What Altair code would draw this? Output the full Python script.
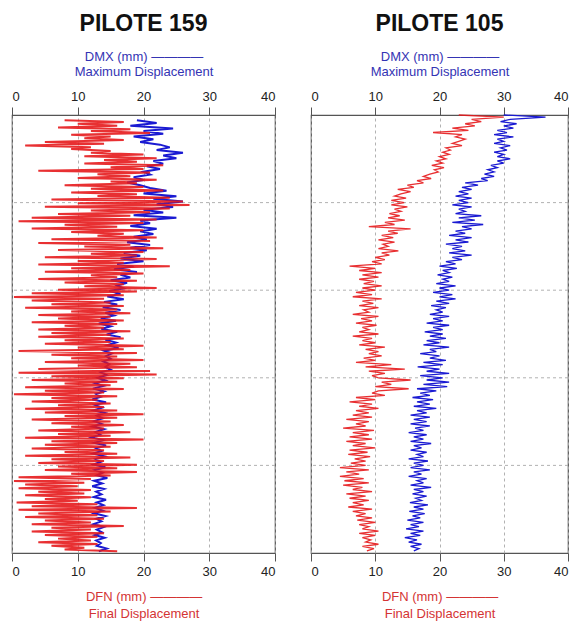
import altair as alt
import numpy as np
import pandas as pd

# ---------------- data ----------------
AXIS_TICKS = [0, 10, 20, 30, 40]
DEPTH_GRID = [10, 20, 30, 40]

# PILOTE 159
depth_span_159 = (0.6, 49.8)
dfn_159 = [
    8, 17, 10, 16, 7, 18, 12, 21, 9, 15, 11, 17, 5, 14, 2, 12, 9, 15, 12, 20,
    11, 22, 14, 19, 11, 23, 15, 20, 4, 21, 13, 18, 10, 22, 15, 19, 8, 20, 12, 23,
    9, 19, 13, 24, 6, 26, 10, 27, 5, 24, 12, 21, 7, 18, 3, 22, 1, 20, 8, 16,
    3, 20, 9, 17, 13, 22, 6, 21, 4, 18, 11, 23, 7, 20, 12, 19, 5, 22, 10, 17,
    4, 24, 9, 18, 5, 20, 12, 16, 4, 19, 8, 17, 11, 22, 7, 19, 3, 17, 0.3, 14,
    3, 15, 6, 17, 2, 16, 9, 18, 4, 15, 7, 17, 3, 16, 8, 14, 4, 18, 6, 15,
    4, 17, 8, 15, 5, 20, 10, 17, 1, 19, 6, 16, 9, 20, 5, 18, 10, 19, 4, 21,
    1, 22, 6, 17, 3, 16, 8, 15, 2, 17, 5, 14, 0.3, 16, 6, 13, 3, 15, 7, 14,
    2, 16, 5, 20, 8, 16, 3, 15, 6, 17, 9, 14, 4, 18, 7, 15, 2, 20, 6, 16,
    5, 15, 3, 14, 8, 16, 2, 18, 6, 14, 4, 19, 7, 16, 5, 19, 9, 15, 1, 12,
    0.3, 11, 2, 10, 1, 12, 4, 11, 2, 12, 5, 10, 0.7, 13, 3, 19, 1, 15, 4, 13,
    2, 14, 5, 12, 3, 17, 6, 12, 3, 14, 5, 13, 7, 12, 4, 13, 6, 11, 8, 16,
]
dmx_159 = [
    19, 22, 18, 24.5, 20, 23, 18.5, 21.5, 19.5, 22.5, 24, 22, 26, 23, 25, 21.5,
    23, 20.5, 22.5, 20, 21, 18.5, 20, 17.5, 19.5, 21, 23.5, 20, 25, 21.5, 26, 22,
    24.5, 20, 23, 18.5, 25, 19.5, 21, 18, 22, 19.5, 21.5, 18.5, 20.5, 17.5, 21, 18,
    20.5, 17, 19.5, 16.5, 20, 16, 18.5, 15.5, 19, 16.5, 18, 15, 17.5, 16, 17, 14.8,
    16.5, 14.5, 17, 14, 16, 13.8, 16.5, 14.2, 15.5, 13.5, 15.8, 13.2, 15, 13.6, 16, 14.4,
    16.5, 14.2, 15.8, 14.5, 16.2, 14, 15.2, 14.3, 15, 13.9, 14.8, 14.2, 15, 13.5, 14.4, 13,
    14.2, 12.6, 13.9, 12.3, 14, 12.8, 13.5, 12.2, 14.3, 12.6, 13.7, 12.4, 14.1, 12.9, 13.8, 12.5,
    13.6, 12.2, 14, 12.7, 13.4, 12.1, 13.9, 12.5, 14.3, 12.8, 13.6, 12.3, 14.1, 12.7, 13.5, 12.4,
    14.2, 12.6, 13.8, 12.9, 14.5, 12.5, 13.7, 12.2, 14, 12.8, 13.6, 12.4, 14.3, 12.9, 13.9, 12.6,
    13.8, 12.5, 14.2, 12.8, 13.6, 12.4, 14, 12.9, 13.7, 12.6, 14.1, 12.8, 13.5, 12.9, 14.4, 13.2,
]

# PILOTE 105
depth_span_105 = (0.0, 49.75)
dfn_105 = [
    23, 30, 25, 26.5, 24, 25.5, 22, 24.5, 19, 23.5, 22.5, 24, 23, 22, 23.5, 21, 21.7, 20.5, 21.5, 20,
    21, 19.5, 20.5, 18.8, 20.7, 19.2, 19.8, 18.5, 17.5, 18.7, 16.5, 17.5, 15, 16, 13.5, 15.5, 14, 13, 14.8, 12.5,
    14.5, 12.5, 15, 13, 14, 12.2, 13.8, 12, 14.6, 11.5, 13, 9, 15.5, 12, 13.5, 11, 12.8, 10.5, 13, 11.2,
    12, 10.5, 13.6, 11, 12.2, 10, 11.5, 9.5, 11, 6, 10, 7.5, 11, 8, 10.5, 7.5, 9.8, 8.2, 11, 8,
    10, 7, 9.5, 6.5, 11, 8, 9.7, 7.5, 10.5, 8.2, 9, 6.5, 10.5, 7.8, 9.5, 7, 10.2, 8, 9, 7.5,
    10.5, 6.5, 9.5, 8, 10, 7.5, 11.5, 8.5, 10.5, 9, 11, 8.2, 10, 7, 12.5, 8.5, 14.6, 9, 11.5, 9.5,
    10.5, 15.5, 11, 12.5, 10, 15.2, 10.5, 9.5, 11.5, 7, 10, 6, 9.5, 7.5, 10.5, 7, 9, 6.5, 9.5, 5.5,
    9, 7, 8.5, 5, 9.8, 6.5, 9, 6, 9.5, 5.5, 8.5, 6.5, 10, 6, 8.8, 5.8, 9.2, 6.8, 8.5, 6.2,
    8.5, 4.5, 9, 5.5, 7.5, 4.5, 8.2, 5.2, 9, 5, 8, 6.5, 9.5, 5.5, 8.5, 6, 9, 6.5, 8.2, 5.8,
    9.5, 6.5, 8.5, 7, 9.5, 7.2, 10, 7.5, 9, 8, 10.5, 7.5, 10, 8, 9.3, 8.5, 10.5, 8, 9.8, 8.7,
]
dmx_105 = [
    30, 36.5, 31, 29.5, 32, 30, 31.5, 29, 30.5, 28.5, 31.5, 29, 30, 28.5, 31, 29.5, 30.5, 28.5, 30, 29,
    31, 29, 30, 28, 29, 27.5, 28.5, 27, 28.5, 26.5, 27.5, 24, 26, 23.5, 25, 23, 24.5, 22.5, 25, 23,
    24.5, 22, 25, 23, 24, 22.5, 26.5, 23, 25.5, 22, 26.8, 23.5, 25, 22.5, 24, 21.5, 25, 22.5, 24.5, 21,
    23.5, 22, 24, 21.5, 25, 22, 23.5, 21, 22.5, 20, 22.7, 20.5, 21.5, 19.7, 22, 20.5, 21.5, 19.5, 22.5, 20,
    21.5, 19, 22, 20, 22.5, 19.5, 21.5, 18.7, 21, 19.5, 20.5, 18.5, 21.5, 19, 20.5, 18, 21.5, 19, 20.5, 17.7,
    20.5, 18.5, 21, 18, 20, 17.5, 21.5, 18.5, 19.5, 17, 20, 18.5, 21, 17.5, 20.5, 16.6, 20, 18, 21.5, 17,
    20.5, 18, 21.5, 17.5, 21.2, 16.5, 19.5, 17, 18.5, 15.8, 19, 16.5, 18.5, 16, 19.5, 16.5, 18, 15.5, 18.5, 16,
    18, 15.5, 18.5, 16.2, 17.5, 15.2, 18, 16, 17.5, 15.5, 18.7, 16, 17.2, 15.5, 18, 16.5, 17.5, 15.2, 18.2, 16,
    17.5, 15.5, 18.5, 16, 17.2, 15.2, 18, 16.5, 17.5, 15.5, 18.7, 16, 17.5, 15.8, 18, 16.3, 17.2, 15.4, 18.2, 16,
    17.5, 15.3, 17.7, 15.8, 17, 15, 17.5, 15.5, 16.8, 14.8, 17.5, 15.5, 17, 14.6, 16.5, 15.2, 17.2, 15.5, 16.8, 16,
]

RED = "#e5191c"
BLUE = "#1a1ad2"
GRID = "#a9a9a9"
FONT = "Liberation Sans"


def frame(values, span):
    return pd.DataFrame({
        "depth": np.linspace(span[0], span[1], len(values)),
        "value": values,
    })


def panel(title, dfn, dmx, span, width, red_w, blue_w):
    xscale = alt.Scale(domain=[0, 40], nice=False, zero=False)
    yscale = alt.Scale(domain=[0, 50], reverse=True, nice=False, zero=False)
    grid = alt.Chart(pd.DataFrame({"depth": DEPTH_GRID})).mark_rule(
        color=GRID, strokeDash=[3, 3], strokeWidth=0.9
    ).encode(y=alt.Y("depth:Q", scale=yscale, axis=None))
    blue = alt.Chart(frame(dmx, span)).mark_line(
        color=BLUE, strokeWidth=blue_w
    ).encode(
        x=alt.X("value:Q", scale=xscale,
                axis=alt.Axis(orient="top", values=AXIS_TICKS, grid=False,
                              title=["DMX (mm)  \u2014\u2014\u2014\u2014", "Maximum Displacement"],
                              titleColor="#3434b4", titlePadding=12, labelPadding=4,
                              titleLineHeight=15)),
        y=alt.Y("depth:Q", scale=yscale, axis=None),
        order="depth:Q",
    )
    red = alt.Chart(frame(dfn, span)).mark_line(
        color=RED, strokeWidth=red_w, opacity=0.9
    ).encode(
        x=alt.X("value:Q", scale=xscale,
                axis=alt.Axis(orient="bottom", values=AXIS_TICKS, grid=True,
                              gridDash=[3, 3], gridColor=GRID, gridWidth=0.9,
                              title=["DFN (mm)  \u2014\u2014\u2014\u2014", "Final Displacement"],
                              titleColor="#d43434", titleBaseline="alphabetic",
                              titlePadding=22, labelPadding=4, titleLineHeight=17)),
        y=alt.Y("depth:Q", scale=yscale, axis=None),
        order="depth:Q",
    )
    return alt.layer(grid, blue, red).resolve_axis(x="independent").properties(
        width=width, height=438,
        title=alt.TitleParams(title, fontSize=23, fontWeight="bold", font=FONT,
                              color="#111111", anchor="middle", offset=14),
    )


p1 = panel("PILOTE 159", dfn_159, dmx_159, depth_span_159, 263, 2.0, 2.0)
p2 = panel("PILOTE 105", dfn_105, dmx_105, depth_span_105, 257, 1.3, 1.3)

chart = alt.hconcat(p1, p2, spacing=32).properties(
    padding={"left": 9, "right": 0, "top": 12, "bottom": 0}
).configure_view(
    stroke="#555555", strokeWidth=1.2
).configure_axis(
    labelFont=FONT, labelFontSize=13, labelColor="#222222", labelFlush=True,
    tickColor="#555555", tickSize=8, domain=False,
    titleFont=FONT, titleFontSize=13, titleFontWeight="normal",
)

chart.save("out.html", embed_options={"renderer": "svg", "actions": False})
